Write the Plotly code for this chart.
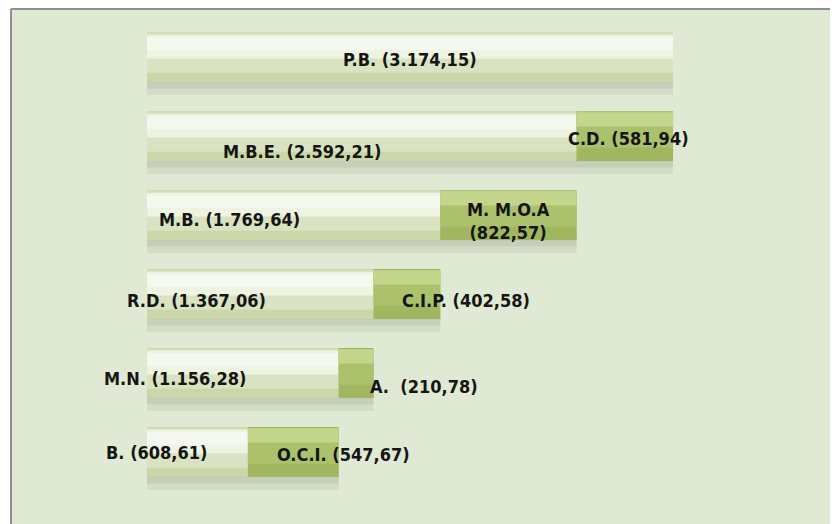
import plotly.graph_objects as go

# Rows from top to bottom
categories = ["P.B.", "M.B.E.", "M.B.", "R.D.", "M.N.", "B."]
base_values = [3174.15, 2592.21, 1769.64, 1367.06, 1156.28, 608.61]
part_labels = [None, "C.D.", "M. M.O.A", "C.I.P.", "A.", "O.C.I."]
part_values = [0, 581.94, 822.57, 402.58, 210.78, 547.67]
base_text = ["P.B. (3.174,15)", "M.B.E. (2.592,21)", "M.B. (1.769,64)",
             "R.D. (1.367,06)", "M.N. (1.156,28)", "B. (608,61)"]
part_text = ["", "C.D. (581,94)", "M. M.O.A<br>(822,57)", "C.I.P. (402,58)",
             "A.  (210,78)", "O.C.I. (547,67)"]

totals = [b + p for b, p in zip(base_values, part_values)]

FONT = "DejaVu Sans Condensed, Liberation Sans Narrow, Arial Narrow, sans-serif"
BW = 0.63

fig = go.Figure()

def bar(x, base, width, offset, color):
    fig.add_trace(go.Bar(y=categories, x=x, base=base, orientation="h",
                         width=width, offset=offset,
                         marker=dict(color=color, line=dict(width=0)),
                         hoverinfo="skip", showlegend=False))

# soft shadow under each bar
bar(totals, 0, 0.30, 0.18, "rgba(120,128,105,0.12)")
bar(totals, 0, 0.22, 0.18, "rgba(120,128,105,0.14)")
bar(totals, 0, 0.12, 0.20, "rgba(110,118,95,0.14)")
# light bars
bar(base_values, 0, BW, -BW / 2, "#cbd7a8")
bar(base_values, 0, 0.50, -0.30, "#d9e3c1")
bar(base_values, 0, 0.30, -0.28, "#eef3e2")
bar(base_values, 0, 0.16, -0.25, "#f5f8ee")
# dark bars
bar(part_values, base_values, BW, -BW / 2, "#a0b75f")
bar(part_values, base_values, 0.45, -0.30, "#abc16b")
bar(part_values, base_values, 0.18, -0.30, "#c4d68c")

annotations = []
tf = dict(family=FONT, size=18, color="#151515", weight="bold")
base_pos = [
    dict(x=base_values[0] / 2, xanchor="center", xshift=0, yshift=-2),
    dict(x=0, xanchor="left", xshift=74, yshift=-15),
    dict(x=0, xanchor="left", xshift=10, yshift=-4),
    dict(x=0, xanchor="left", xshift=-22, yshift=-6),
    dict(x=0, xanchor="left", xshift=-45, yshift=-6),
    dict(x=0, xanchor="left", xshift=-43, yshift=-1),
]
for i, (c, t) in enumerate(zip(categories, base_text)):
    p = base_pos[i]
    annotations.append(dict(x=p["x"], y=c, xref="x", yref="y", text=t,
                            showarrow=False, xanchor=p["xanchor"],
                            xshift=p["xshift"], yshift=p["yshift"], font=tf))
part_pos = [
    None,
    dict(xanchor="left", xshift=-11, yshift=-2),
    dict(xanchor="center", xshift=0, yshift=-6),
    dict(xanchor="left", xshift=26, yshift=-6),
    dict(xanchor="left", xshift=29, yshift=-14),
    dict(xanchor="left", xshift=27, yshift=-3),
]
for i, (c, t) in enumerate(zip(categories, part_text)):
    if not t:
        continue
    p = part_pos[i]
    xv = base_values[i] + part_values[i] / 2 if p["xanchor"] == "center" else base_values[i]
    annotations.append(dict(x=xv, y=c, xref="x", yref="y", text=t,
                            showarrow=False, xanchor=p["xanchor"],
                            xshift=p["xshift"], yshift=p["yshift"], font=tf))

fig.update_layout(
    width=838, height=524,
    margin=dict(l=3, r=0, t=1, b=0),
    paper_bgcolor="white",
    plot_bgcolor="#e0e9d3",
    barmode="overlay",
    xaxis=dict(range=[-821, 4218], visible=False, fixedrange=True),
    yaxis=dict(type="category", categoryorder="array", categoryarray=categories,
               range=[6.013, -0.608], visible=False, fixedrange=True),
    annotations=annotations,
    shapes=[
        dict(type="line", xref="paper", yref="paper", x0=0, x1=1, y0=1, y1=1,
             line=dict(color="#8e8e8e", width=2)),
        dict(type="line", xref="paper", yref="paper", x0=0, x1=0, y0=0, y1=1,
             line=dict(color="#8e8e8e", width=2)),
    ],
)

fig.write_html("out.html")
